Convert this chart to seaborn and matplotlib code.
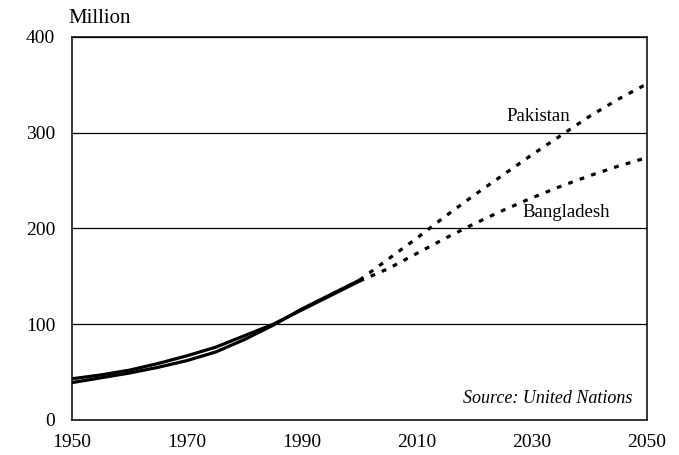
import numpy as np
import pandas as pd
import matplotlib
matplotlib.use("Agg")
import matplotlib.pyplot as plt
import seaborn as sns

# ---- data (million) ----
years_hist = [1950, 1955, 1960, 1965, 1970, 1975, 1980, 1985, 1990, 1995, 2000]
bangladesh_hist = [43, 47, 52, 59, 67, 76, 88, 100, 115, 130, 145]
pakistan_hist = [39, 44, 49, 55, 62, 71, 84, 99, 116, 131, 146]

years_proj = [2000, 2005, 2010, 2015, 2020, 2025, 2030, 2035, 2040, 2045, 2050]
pakistan_proj = [146, 168, 190, 213, 235, 256, 277, 297, 317, 335, 351]
bangladesh_proj = [145, 158, 174, 190, 205, 219, 232, 244, 255, 265, 274]

x_ticks = [1950, 1970, 1990, 2010, 2030, 2050]
y_ticks = [0, 100, 200, 300, 400]

rows = []
for c, ys, vs in [("Bangladesh", years_hist, bangladesh_hist),
                  ("Pakistan", years_hist, pakistan_hist)]:
    for y, v in zip(ys, vs):
        rows.append({"year": y, "pop": v, "country": c, "phase": "estimate"})
for c, ys, vs in [("Bangladesh", years_proj, bangladesh_proj),
                  ("Pakistan", years_proj, pakistan_proj)]:
    for y, v in zip(ys, vs):
        rows.append({"year": y, "pop": v, "country": c, "phase": "projection"})
df = pd.DataFrame(rows)
df["unit"] = df["country"] + "_" + df["phase"]

sns.set_theme(style="white")
plt.rcParams["font.family"] = ["Liberation Serif", "DejaVu Serif"]

fig = plt.figure(figsize=(6.79, 4.55), dpi=100)
ax = fig.add_axes([0.106, 0.077, 0.847, 0.842])

sns.lineplot(data=df, x="year", y="pop", style="phase", units="unit",
             estimator=None, color="black", linewidth=2.3,
             dashes={"estimate": "", "projection": (1.5, 2.3)},
             legend=False, ax=ax, sort=True)

ax.set_xlim(1950, 2050)
ax.set_ylim(0, 400)
ax.set_xticks(x_ticks)
ax.set_yticks(y_ticks)
ax.set_xticklabels([str(t) for t in x_ticks], fontsize=14)
ax.set_yticklabels([str(t) for t in y_ticks], fontsize=14)
ax.tick_params(axis="x", direction="in", length=5, width=0.8, color="black", pad=10)
ax.tick_params(axis="y", length=0, pad=12)
for t in ax.get_xticklabels() + ax.get_yticklabels():
    t.set_color("black")

ax.yaxis.grid(True, color="black", linewidth=0.9)
ax.xaxis.grid(False)
for s in ax.spines.values():
    s.set_visible(True)
    s.set_color("black")
    s.set_linewidth(1.1)

ax.set_xlabel("")
ax.set_ylabel("")

fig.text(0.100, 0.938, "Million", fontsize=15, color="black", ha="left", va="bottom")
ax.text(2036.7, 317, "Pakistan", fontsize=13.5, color="black", ha="right", va="center")
ax.text(2043.6, 217, "Bangladesh", fontsize=13.5, color="black", ha="right", va="center")
ax.text(2047.5, 22, "Source: United Nations", fontsize=13, style="italic",
        color="black", ha="right", va="center")

fig.savefig("out.png", dpi=100, facecolor="white")
